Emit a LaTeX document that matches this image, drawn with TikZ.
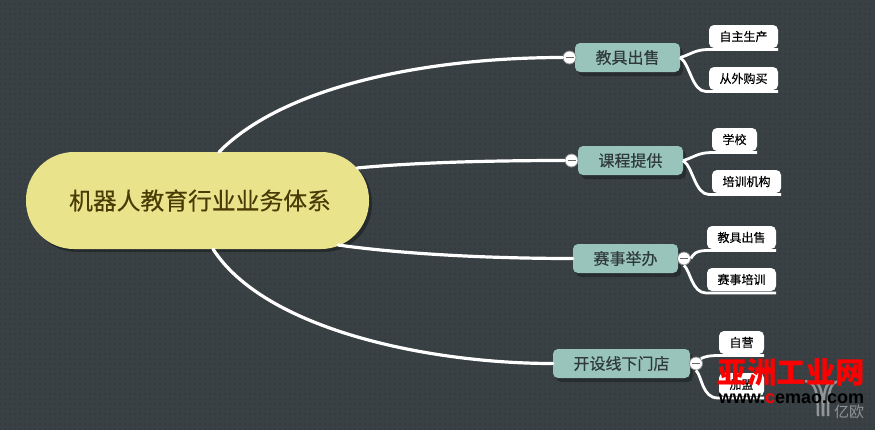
\documentclass[tikz,border=0pt]{standalone}
\usepackage{fontspec}
\setmainfont{Liberation Sans}
\newfontfamily\cjk[FakeBold=0.25]{Noto Sans CJK SC}
\newfontfamily\cjkheavy{Noto Sans CJK SC}
\usetikzlibrary{patterns.meta,shadows}
\definecolor{boardcol}{HTML}{3A4145}
\definecolor{dotcol}{HTML}{30373A}
\definecolor{rootcol}{HTML}{E9E38B}
\definecolor{rootink}{HTML}{4A3A05}
\definecolor{branchcol}{HTML}{99C4BC}
\definecolor{branchink}{HTML}{2F3A3A}
\definecolor{logocol}{HTML}{8F9496}
\tikzset{
	rootnode/.style={fill=rootcol, rounded corners=48pt, minimum width=343pt, minimum height=97pt, inner sep=0pt, text=rootink, font=\cjk\fontsize{23.8}{26}\selectfont, drop shadow={shadow xshift=3pt, shadow yshift=-3pt, fill=black, opacity=0.35}},
	branch/.style={fill=branchcol, rounded corners=5pt, minimum height=29pt, inner sep=0pt, text=branchink, font=\cjk\fontsize{16}{18}\selectfont, drop shadow={shadow xshift=3pt, shadow yshift=-4pt, fill=black, opacity=0.3}},
	leaf/.style={fill=white, rounded corners=5pt, minimum height=23pt, inner sep=0pt, text=black, font=\cjk\fontsize{12}{14}\selectfont},
	wire/.style={draw=white, line width=3.2pt, line cap=round},
	twig/.style={draw=white, line width=2.8pt},
	knob/.style={circle, fill=white, draw=black!45, line width=0.8pt, minimum size=13pt, inner sep=0pt},
}
\begin{document}
\begin{tikzpicture}[x=1pt, y=-1pt]
			%%%%% START %%%%%
			\useasboundingbox (0, 0) rectangle (875, 429);
			\fill[boardcol] (-5, -5) rectangle (880, 434);
			\fill[pattern={Dots[distance=5pt, radius=0.8pt]}, pattern color=dotcol] (-5, -5) rectangle (880, 434);
			
			\node[rootnode] (root) at (197.5, 200.5) {\hspace*{5pt}机器人教育行业业务体系};
			
			\node[branch, minimum width=105pt] (sale) at (627.5, 57.5) {教具出售};
			\node[branch, minimum width=105pt] (course) at (630.5, 160.5) {课程提供};
			\node[branch, minimum width=105pt] (match) at (625.5, 258.5) {赛事举办};
			\node[branch, minimum width=137pt] (shop) at (621.5, 363.5) {开设线下门店};
			
			\node[knob] (knobsale) at (569.5, 57.5) {};
			\node[knob] (knobcourse) at (571.5, 160.5) {};
			\node[knob] (knobmatch) at (684, 258.5) {};
			\node[knob] (knobshop) at (696, 363.5) {};
			\foreach \k in {knobsale, knobcourse, knobmatch, knobshop}
				\draw[line width=0.8pt, color=black!60] ([xshift=-4pt]\k.center) -- ([xshift=4pt]\k.center);
			
			\node[leaf, minimum width=69pt] (self) at (743.5, 36.5) {自主生产};
			\node[leaf, minimum width=69pt] (buy) at (743.5, 78.5) {从外购买};
			\node[leaf, minimum width=45pt] (school) at (734.5, 139.5) {学校};
			\node[leaf, minimum width=69pt] (train) at (746.5, 181.5) {培训机构};
			\node[leaf, minimum width=69pt] (kit) at (741.5, 237.5) {教具出售};
			\node[leaf, minimum width=69pt] (coach) at (741.5, 279.5) {赛事培训};
			\node[leaf, minimum width=45pt] (own) at (741.5, 342.5) {自营};
			\node[leaf, minimum width=45pt] (join) at (741.5, 384.5) {加盟};
			
			\coordinate (rootsale) at (219, 152);
			\coordinate (rootcourse) at (357, 168);
			\coordinate (rootmatch) at (338, 245);
			\coordinate (rootshop) at (213, 249);
			
			\draw[wire] (rootsale) .. controls (285, 85) and (430, 57.5) .. (knobsale.west);
			\draw[wire] (rootcourse) .. controls (420, 162) and (500, 160.5) .. (knobcourse.west);
			\draw[wire] (rootmatch) .. controls (410, 255) and (500, 258.5) .. (match.west);
			\draw[wire] (rootshop) .. controls (265, 330) and (430, 363.5) .. (shop.west);
			
			% twigs run along the lower edge of the leaves
			\draw[twig] (sale.east) .. controls (692, 54) and (695, 49.5) .. (709, 49.5) -- (self.south east |- 0, 49.5);
			\draw[twig] (sale.east) .. controls (690, 64) and (692, 91.5) .. (706, 91.5) -- (buy.south east |- 0, 91.5);
			\draw[twig] (course.east) .. controls (695, 157) and (698, 152.5) .. (712, 152.5) -- (school.south east |- 0, 152.5);
			\draw[twig] (course.east) .. controls (693, 167) and (695, 194.5) .. (709, 194.5) -- (train.south east |- 0, 194.5);
			\draw[twig] (knobmatch.east) .. controls (693, 255) and (695, 250.5) .. (707, 250.5) -- (kit.south east |- 0, 250.5);
			\draw[twig] (knobmatch.south) .. controls (690, 270) and (692, 293) .. (706, 293) -- (coach.south east |- 0, 293);
			\draw[twig] (knobshop.north east) .. controls (704, 357) and (708, 355.5) .. (719, 355.5) -- (own.south east |- 0, 355.5);
			\draw[twig] (knobshop.south) .. controls (702, 376) and (702, 398) .. (718, 398) -- (join.south east |- 0, 398);
			
			% stamp over the lower right corner
			\draw[line width=2.5pt, color=logocol] (805, 381) .. controls (815, 382) and (818, 390) .. (818, 416);
			\draw[line width=2.5pt, color=logocol] (840, 381) .. controls (830, 382) and (828, 390) .. (828, 416);
			\draw[line width=2.5pt, color=logocol] (814, 381) .. controls (820, 384) and (823, 390) .. (823, 416);
			\draw[line width=2.5pt, color=logocol] (832, 381) .. controls (826, 384) and (823, 390) .. (823, 416);
			\node[inner sep=0pt, text=logocol, font=\cjkheavy\fontsize{15}{15}\selectfont] (stampyo) at (849, 411.5) {亿欧};
			\node[inner sep=0pt, text=red, font=\cjkheavy\bfseries\fontsize{29.5}{30}\selectfont] (stampcn) at (791.5, 372) {亚洲工业网};
			\node[inner sep=0pt, text=black, font=\bfseries\fontsize{18}{18}\selectfont] (stampurl) at (791.5, 398.5) {www.{\color{red}c}emao.com};
			%%%%% END %%%%%
		\end{tikzpicture}
\end{document}
